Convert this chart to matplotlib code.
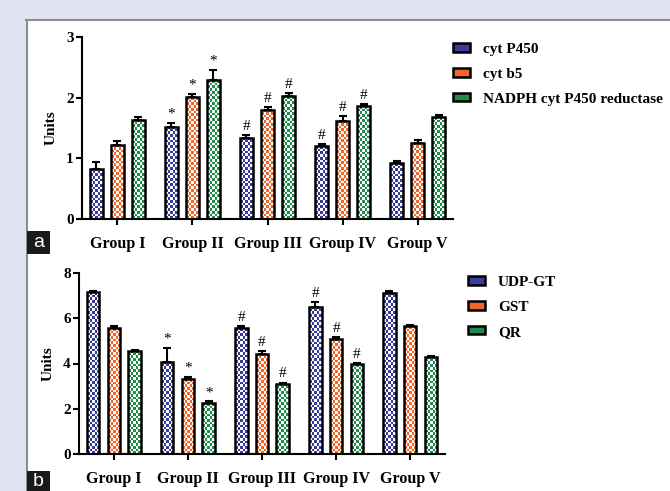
import numpy as np
import matplotlib
matplotlib.use("Agg")
import matplotlib.pyplot as plt
from matplotlib.patches import Rectangle, Patch
from matplotlib.lines import Line2D

groups = ["Group I", "Group II", "Group III", "Group IV", "Group V"]

# phase I enzymes
p450 = [0.83, 1.52, 1.34, 1.20, 0.92]
p450_err = [0.11, 0.07, 0.04, 0.04, 0.03]
b5 = [1.22, 2.01, 1.80, 1.62, 1.26]
b5_err = [0.06, 0.05, 0.05, 0.08, 0.05]
nadph = [1.64, 2.29, 2.02, 1.86, 1.68]
nadph_err = [0.04, 0.17, 0.06, 0.04, 0.04]
marks_a = ["", "*", "#", "#", ""]

# phase II enzymes
udpgt = [7.15, 4.08, 5.55, 6.50, 7.13]
udpgt_err = [0.05, 0.60, 0.12, 0.22, 0.06]
gst = [5.55, 3.30, 4.42, 5.10, 5.65]
gst_err = [0.10, 0.10, 0.12, 0.08, 0.07]
qr = [4.57, 2.25, 3.10, 3.97, 4.30]
qr_err = [0.04, 0.08, 0.06, 0.06, 0.04]
marks_b = ["", "*", "#", "#", ""]

BLUE = "#3a3c9c"
ORANGE = "#f0672a"
GREEN = "#208c4e"
COLORS = [BLUE, ORANGE, GREEN]

plt.rcParams["font.family"] = ["Liberation Serif", "DejaVu Serif"]
plt.rcParams["font.weight"] = "bold"

W, H = 670, 491
fig = plt.figure(figsize=(W / 100, H / 100), dpi=100)
fig.patch.set_facecolor("white")

# page frame: lavender margin with grey rule
lav = "#e1e5f2"
fig.add_artist(Rectangle((0, 1 - 19 / H), 1, 19 / H, transform=fig.transFigure,
                         facecolor=lav, edgecolor="none", zorder=0))
fig.add_artist(Rectangle((0, 0), 26 / W, 1, transform=fig.transFigure,
                         facecolor=lav, edgecolor="none", zorder=0))
fig.add_artist(Line2D([26 / W, 1], [1 - 19.5 / H, 1 - 19.5 / H], transform=fig.transFigure,
                      color="#8c8c8c", lw=1.5))
fig.add_artist(Line2D([26.5 / W, 26.5 / W], [0, 1 - 19.5 / H], transform=fig.transFigure,
                      color="#8c8c8c", lw=1.5))


def checker_img(color, nx, ny):
    rgb = np.array(matplotlib.colors.to_rgb(color))
    img = np.ones((ny, nx, 3))
    yy, xx = np.mgrid[0:ny, 0:nx]
    img[(xx + yy) % 2 == 0] = rgb
    return img


def draw_panel(ax, series, errs, names, marks, ylim, yticks):
    x = np.arange(len(groups))
    off = 0.28
    bw = 0.17
    ax.set_xlim(-0.47, len(groups) - 1 + 0.47)
    ax.set_ylim(*ylim)
    fig.canvas.draw()
    bb = ax.get_window_extent()
    px_x = bb.width / (ax.get_xlim()[1] - ax.get_xlim()[0])
    px_y = bb.height / (ylim[1] - ylim[0])
    cell = 2.7
    handles = []
    for i, (vals, err, col, name) in enumerate(zip(series, errs, COLORS, names)):
        xs = x + (i - 1) * off
        bars = ax.bar(xs, vals, width=bw, color=col, edgecolor="none", zorder=2)
        for b in bars:
            x0, w = b.get_x(), b.get_width()
            h = b.get_height()
            nx = max(1, int(round(w * px_x / cell)))
            ny = max(1, int(round(h * px_y / cell)))
            im = ax.imshow(checker_img(col, nx, ny), extent=(x0, x0 + w, 0, h),
                           origin="lower", aspect="auto", interpolation="nearest", zorder=2.5)
            im.set_clip_path(b)
        ax.bar(xs, vals, width=bw, fill=False, edgecolor="black", linewidth=1.8, zorder=3)
        ax.errorbar(xs, vals, yerr=[np.zeros(len(vals)), err], fmt="none", ecolor="black",
                    elinewidth=1.5, capsize=3, capthick=1.5, zorder=2.8)
        for xi, v, e, m in zip(xs, vals, err, marks):
            if m:
                ax.annotate(m, (xi, v + e), xytext=(0, 1.5), textcoords="offset points",
                            ha="center", va="bottom", fontsize=11, fontweight="normal")
        handles.append(Patch(facecolor=col, edgecolor="black", linewidth=1.8, label=name))
    ax.set_xlim(-0.47, len(groups) - 1 + 0.47)
    ax.set_ylim(*ylim)
    ax.set_xticks(x)
    ax.set_xticklabels(groups, fontsize=11.5, fontweight="bold")
    ax.set_yticks(yticks)
    ax.set_yticklabels([str(t) for t in yticks], fontsize=11, fontweight="bold")
    ax.set_ylabel("Units", fontsize=11, fontweight="bold", labelpad=6)
    for s in ["top", "right"]:
        ax.spines[s].set_visible(False)
    for s in ["left", "bottom"]:
        ax.spines[s].set_linewidth(1.5)
    ax.tick_params(axis="both", width=1.5, length=4, direction="out", pad=2)
    ax.tick_params(axis="x", pad=8)
    return handles


ax_a = fig.add_axes([82 / W, 1 - 219 / H, (453 - 82) / W, (219 - 37) / H])
h_a = draw_panel(ax_a, [p450, b5, nadph], [p450_err, b5_err, nadph_err],
                 ["cyt P450", "cyt b5", "NADPH cyt P450 reductase"], marks_a,
                 (0, 3), [0, 1, 2, 3])

ax_b = fig.add_axes([79 / W, 1 - 454 / H, (445 - 79) / W, (454 - 273) / H])
h_b = draw_panel(ax_b, [udpgt, gst, qr], [udpgt_err, gst_err, qr_err],
                 ["UDP-GT", "GST", "QR"], marks_b,
                 (0, 8), [0, 2, 4, 6, 8])

leg_kw = dict(loc="upper left", frameon=False, handlelength=1.1,
              handleheight=0.45, handletextpad=0.85, labelspacing=0.78,
              borderpad=0, borderaxespad=0, prop={"weight": "bold", "size": 11})
fig.legend(handles=h_a, bbox_to_anchor=(453 / W, 1 - 43 / H), **leg_kw)
fig.legend(handles=h_b, bbox_to_anchor=(468 / W, 1 - 276 / H), **leg_kw)

# panel letters
for lab, y0, hh in [("a", 1 - 254 / H, 23 / H), ("b", 0, 20 / H)]:
    fig.add_artist(Rectangle((27 / W, y0), 23 / W, hh, transform=fig.transFigure,
                             facecolor="#1a1a1a", edgecolor="none", zorder=5))
    fig.text(38.5 / W, y0 + hh / 2, lab, color="white", fontsize=14, fontweight="normal",
             family="Liberation Sans", ha="center", va="center", zorder=6)

fig.savefig("out.png", dpi=100, facecolor=fig.get_facecolor())
